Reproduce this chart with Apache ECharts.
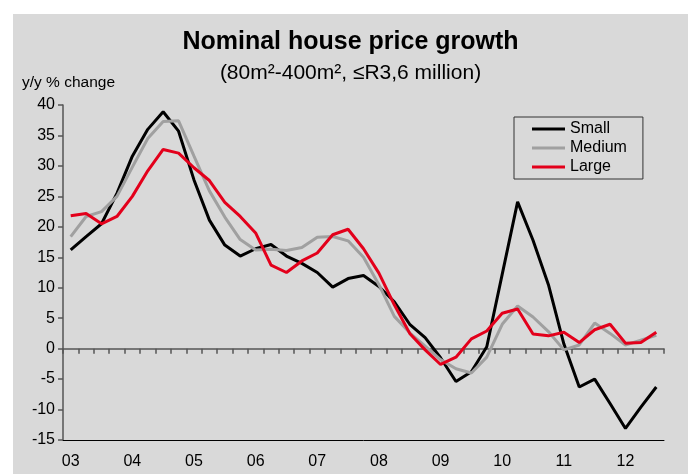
<!DOCTYPE html>
<html>
<head>
<meta charset="utf-8">
<script src="https://cdn.jsdelivr.net/npm/echarts@6/dist/echarts.min.js"></script>
<style>
    html, body { margin: 0; padding: 0; background: #ffffff; }
    #chart { position: absolute; left: 13px; top: 14px; width: 675px; height: 460px; background: #d9d9d9; }
</style>
</head>
<body>
<div id="chart"></div>
<script>
    // quarterly, 2003 Q1 .. 2012 Q3
    var years = ['03', '04', '05', '06', '07', '08', '09', '10', '11', '12'];
    var QUARTER_COUNT = 39;

    var small = [16.2, 18.4, 20.5, 25.5, 31.6, 36.0, 38.9, 35.7, 27.7, 21.1,
        17.0, 15.2, 16.4, 17.1, 15.2, 14.0, 12.5, 10.1, 11.5, 12.0,
        10.2, 7.7, 4.0, 1.8, -1.5, -5.4, -3.8, 0.3, 12.2, 24.1,
        17.8, 10.5, 0.8, -6.3, -5.0, -9.0, -13.1, -9.6, -6.3];

    var medium = [18.4, 21.7, 22.5, 25.0, 29.8, 34.5, 37.3, 37.4, 31.6, 25.9,
        21.6, 17.9, 16.2, 16.3, 16.1, 16.6, 18.3, 18.4, 17.7, 15.0,
        10.5, 5.3, 2.6, 0.4, -1.8, -3.3, -4.0, -1.4, 4.0, 7.0,
        5.2, 2.8, -0.2, 0.6, 4.2, 2.5, 0.6, 1.4, 2.2];

    var large = [21.8, 22.2, 20.5, 21.7, 25.0, 29.2, 32.7, 32.1, 29.7, 27.6,
        24.0, 21.7, 19.0, 13.7, 12.5, 14.4, 15.7, 18.7, 19.6, 16.4,
        12.4, 7.2, 2.5, -0.2, -2.6, -1.4, 1.6, 2.9, 5.8, 6.5,
        2.4, 2.1, 2.7, 1.0, 3.1, 4.0, 0.9, 1.0, 2.7];

    var quarters = [];
    for (var i = 0; i < QUARTER_COUNT; i++) {
        quarters.push(years[Math.floor(i / 4)] + ' Q' + (i % 4 + 1));
    }

    var font = 'Liberation Sans, Arial, sans-serif';

    function lineSeries(name, data, color) {
        return {
            name: name,
            type: 'line',
            data: data,
            symbol: 'none',
            animation: false,
            lineStyle: { color: color, width: 3 },
            itemStyle: { color: color }
        };
    }

    var chart = echarts.init(document.getElementById('chart'));
    chart.setOption({
        backgroundColor: '#d9d9d9',
        textStyle: { fontFamily: font },
        title: {
            text: 'Nominal house price growth',
            subtext: '(80m²-400m², ≤R3,6 million)',
            left: 'center',
            top: 11,
            itemGap: 8,
            textStyle: { fontFamily: font, fontSize: 25, fontWeight: 'bold', color: '#000' },
            subtextStyle: { fontFamily: font, fontSize: 21, color: '#000' }
        },
        legend: {
            orient: 'vertical',
            left: 501,
            top: 103,
            padding: [4, 16, 4, 18],
            itemGap: 3,
            itemWidth: 33,
            itemHeight: 3,
            icon: 'rect',
            borderColor: '#333',
            borderWidth: 1,
            textStyle: { fontFamily: font, fontSize: 16, color: '#000' },
            data: ['Small', 'Medium', 'Large']
        },
        grid: { left: 50, top: 91, right: 24, bottom: 34, containLabel: false },
        xAxis: [{
            type: 'category',
            data: quarters,
            position: 'bottom',
            boundaryGap: true,
            axisLine: { onZero: true, lineStyle: { color: '#555', width: 1.5 } },
            axisTick: { show: true, interval: 0, length: 5, lineStyle: { color: '#555', width: 1.5 } },
            axisLabel: { show: false },
            splitLine: { show: false }
        }, {
            type: 'category',
            data: quarters,
            position: 'bottom',
            boundaryGap: true,
            axisLine: { onZero: false, lineStyle: { color: '#000', width: 1 } },
            axisTick: { show: false },
            axisLabel: {
                interval: 3,
                margin: 14,
                fontSize: 16,
                color: '#000',
                formatter: function (v) { return v.slice(0, 2); }
            },
            splitLine: { show: false }
        }],
        yAxis: {
            type: 'value',
            min: -15,
            max: 40,
            interval: 5,
            name: 'y/y % change',
            nameLocation: 'end',
            nameGap: 14,
            nameTextStyle: { fontFamily: font, fontSize: 15.5, color: '#000', align: 'left', padding: [0, 0, 0, -41] },
            axisLine: { show: true, lineStyle: { color: '#555', width: 1.5 } },
            axisTick: { show: true, length: 5, lineStyle: { color: '#555', width: 1.5 } },
            axisLabel: { fontSize: 16, color: '#000', margin: 8 },
            splitLine: { show: false }
        },
        series: [
            lineSeries('Small', small, '#000000'),
            lineSeries('Medium', medium, '#a0a0a0'),
            lineSeries('Large', large, '#e3001b')
        ]
    });
</script>
</body>
</html>
